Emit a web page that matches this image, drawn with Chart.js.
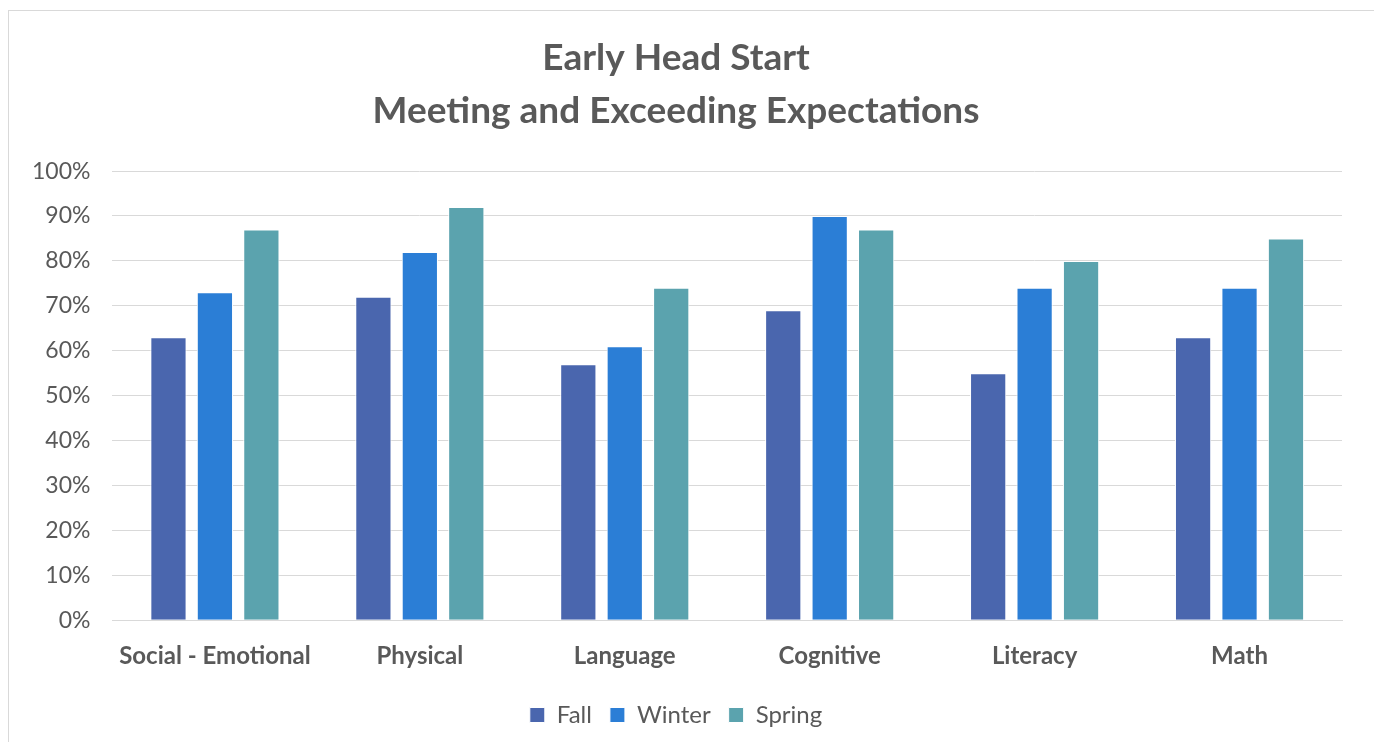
<!DOCTYPE html>
<html>
<head>
<meta charset="utf-8">
<script src="https://cdn.jsdelivr.net/npm/chart.js@4"></script>
<style>
  html, body { margin: 0; padding: 0; background: #fff; }
  #wrap {
    position: absolute; left: 8px; top: 10px; width: 1366px; height: 732px;
    border-left: 1px solid #d9d9d9; border-top: 1px solid #d9d9d9;
    box-sizing: border-box;
  }
</style>
</head>
<body>
<div id="wrap"><canvas id="chart"></canvas></div>
<script>
const categories = ['Social - Emotional', 'Physical', 'Language', 'Cognitive', 'Literacy', 'Math'];
const fall = [63, 72, 57, 69, 55, 63];
const winter = [73, 82, 61, 90, 74, 74];
const spring = [87, 92, 74, 87, 80, 85];
const seriesNames = ['Fall', 'Winter', 'Spring'];
const colors = ['#4a66ae', '#2b7ed6', '#5ba3ae'];

const font = "Lato, 'Open Sans', sans-serif";
const ctx = document.getElementById('chart').getContext('2d');
// eslint-disable-next-line no-new
new Chart(ctx, {
  type: 'bar',
  data: {
    labels: categories,
    datasets: [fall, winter, spring].map((data, i) => ({
      label: seriesNames[i],
      data,
      backgroundColor: colors[i],
      borderColor: '#ffffff',
      borderWidth: 1,
      categoryPercentage: 0.68,
      barPercentage: 0.78,
    })),
  },
  options: {
    responsive: true,
    maintainAspectRatio: false,
    animation: false,
    layout: { padding: { left: 1, right: 32, top: 0, bottom: 5 } },
    plugins: {
      title: {
        display: true,
        text: ['Early Head Start', 'Meeting and Exceeding Expectations'],
        color: '#595959',
        font: { family: font, size: 37, weight: 'bold', lineHeight: 1.42 },
        padding: { top: 21, bottom: 34 },
      },
      legend: {
        position: 'bottom',
        labels: {
          color: '#595959',
          font: { family: font, size: 24 },
          boxWidth: 15,
          boxHeight: 15,
          padding: 18,
        },
      },
      tooltip: { enabled: false },
    },
    scales: {
      x: {
        grid: { display: false },
        border: { color: '#d9d9d9' },
        ticks: {
          color: '#595959',
          font: { family: font, size: 24, weight: 'bold' },
          padding: 14,
        },
      },
      y: {
        min: 0,
        max: 100,
        border: { display: false },
        grid: { color: '#d9d9d9', drawTicks: false },
        ticks: {
          stepSize: 10,
          color: '#595959',
          font: { family: font, size: 23 },
          padding: 22,
          callback: (v) => v + '%',
        },
      },
    },
  },
});
</script>
</body>
</html>
